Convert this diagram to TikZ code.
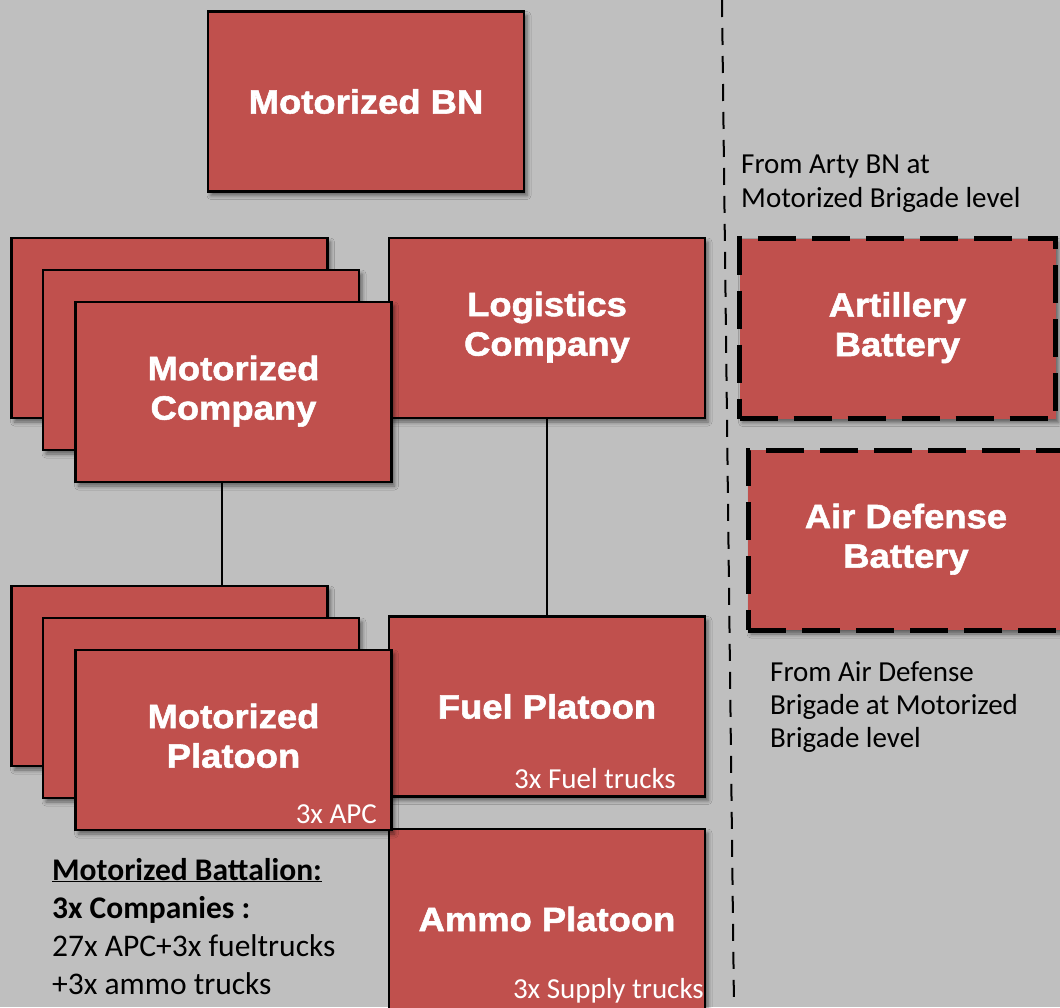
\documentclass[tikz,border=0pt]{standalone}
\usepackage{fontspec}
\setmainfont{Carlito}
\newfontfamily\titlefont[FakeStretch=1.08,BoldFeatures={FakeStretch=1.08,FakeBold=1.6}]{Liberation Sans}
\usetikzlibrary{shadows.blur}
\definecolor{bgray}{RGB}{191,191,191}
\definecolor{boxred}{RGB}{192,80,77}
\newcommand\boxlines[1]{\raisebox{-4pt}{\begin{tabular}{@{}c@{}}#1\end{tabular}}}
\tikzset{
  unitbox/.style={draw=black, line width=2.5pt, fill=boxred, minimum width=316pt, minimum height=180pt,
    inner sep=0pt, text=white, font=\titlefont\bfseries\fontsize{33.7}{39.5}\selectfont, align=center,
    blur shadow={shadow xshift=3pt, shadow yshift=-4pt, shadow blur radius=4pt, shadow opacity=50}},
  attbox/.style={unitbox, line width=5pt, dash pattern=on 38pt off 16pt},
  linkline/.style={line width=2pt, draw=black},
  divline/.style={line width=2pt, draw=black, dash pattern=on 17pt off 11pt},
  blacknote/.style={font=\fontsize{29}{34}\selectfont, text=black, inner sep=0pt},
  whitenote/.style={font=\fontsize{29}{34}\selectfont, text=white, inner sep=0pt},
}
\begin{document}
\begin{tikzpicture}[x=1pt,y=-1pt]
\useasboundingbox (0,0) rectangle (1060,1007);
\fill[bgray] (0,0) rectangle (1060,1007);

% divider
\coordinate (dtop) at (722,0);
\coordinate (dbot) at (734,1007);
\draw[divline] (dtop) -- (dbot);

% boxes
\node[unitbox] (bn) at (366,101.5) {Motorized BN};
\node[unitbox] (log) at (547,328) {\boxlines{Logistics\\Company}};
\node[unitbox] (fuel) at (547,706.5) {Fuel Platoon};
\node[unitbox] (ammo) at (547,919) {Ammo Platoon};
\node[unitbox] (c1) at (169.5,328) {};
\node[unitbox] (c2) at (201,360) {};
\node[unitbox] (c3) at (233.5,392) {\boxlines{Motorized\\Company}};
\node[unitbox] (p1) at (169.5,676) {};
\node[unitbox] (p2) at (201,708) {};
\node[unitbox] (p3) at (233.5,740) {\boxlines{Motorized\\Platoon}};
\node[attbox] (art) at (897.5,328.5) {\boxlines{Artillery\\Battery}};
\node[attbox] (ad) at (906,540) {\boxlines{Air Defense\\Battery}};

% connectors
\coordinate (cx) at (222,0);
\draw[linkline] (c3.south -| cx) -- (p1.north -| cx);
\draw[linkline] (log.south) -- (fuel.north);

% small texts in boxes
\node[whitenote, anchor=base east] (apc) at (377,823) {3x APC};
\node[whitenote, anchor=base east] (fueltxt) at (676,788) {3x Fuel trucks};
\node[whitenote, anchor=base east] (supply) at (704,998) {3x Supply trucks};

% notes
\node[blacknote, anchor=base west] (artnote) at (741,173)
  {\begin{tabular}[t]{@{}l@{}}From Arty BN at\\Motorized Brigade level\end{tabular}};
\node[blacknote, anchor=base west, font=\fontsize{29}{33}\selectfont] (adnote) at (770,681)
  {\begin{tabular}[t]{@{}l@{}}From Air Defense\\Brigade at Motorized\\Brigade level\end{tabular}};
\node[blacknote, anchor=base west, font=\fontsize{31.5}{38}\selectfont] (legend) at (52,880)
  {\begin{tabular}[t]{@{}l@{}}\textbf{\underline{Motorized Battalion:}}\\\textbf{3x Companies :}\\27x APC+3x fueltrucks\\+3x ammo trucks\end{tabular}};
\end{tikzpicture}
\end{document}
